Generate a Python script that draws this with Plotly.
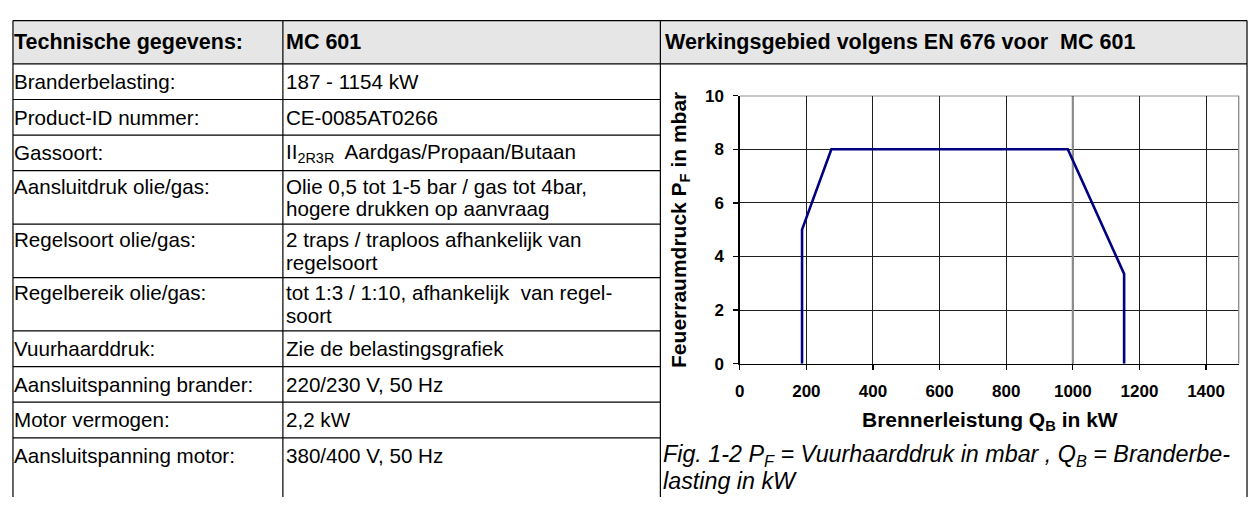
import plotly.graph_objects as go

# ---------------- data ----------------
header_left = "Technische gegevens:"
header_mid = "MC 601"
header_right = "Werkingsgebied volgens EN 676 voor  MC 601"

spec_labels = [
    "Branderbelasting:",
    "Product-ID nummer:",
    "Gassoort:",
    "Aansluitdruk olie/gas:",
    "Regelsoort olie/gas:",
    "Regelbereik olie/gas:",
    "Vuurhaarddruk:",
    "Aansluitspanning brander:",
    "Motor vermogen:",
    "Aansluitspanning motor:",
]
spec_values = [
    ["187 - 1154 kW"],
    ["CE-0085AT0266"],
    ["II<sub>2R3R</sub>  Aardgas/Propaan/Butaan"],
    ["Olie 0,5 tot 1-5 bar / gas tot 4bar,", "hogere drukken op aanvraag"],
    ["2 traps / traploos afhankelijk van", "regelsoort"],
    ["tot 1:3 / 1:10, afhankelijk  van regel-", "soort"],
    ["Zie de belastingsgrafiek"],
    ["220/230 V, 50 Hz"],
    ["2,2 kW"],
    ["380/400 V, 50 Hz"],
]

power_kw = [187, 187, 275, 985, 1154, 1154]
pressure_mbar = [0, 5, 8, 8, 3.35, 0]
x_ticks = [0, 200, 400, 600, 800, 1000, 1200, 1400]
y_ticks = [0, 2, 4, 6, 8, 10]
x_title = "Brennerleistung Q<sub>B</sub> in kW"
y_title = "Feuerraumdruck P<sub>F</sub> in mbar"
caption_lines = [
    "Fig. 1-2 P<sub>F</sub> = Vuurhaarddruk in mbar , Q<sub>B</sub> = Branderbe-",
    "lasting in kW",
]

# ---------------- layout geometry (pixels) ----------------
W, H = 1254, 507
FONT = "Liberation Sans, Arial, Helvetica, sans-serif"
BODY = 20.6
HEAD = 21.5
XL, XC1, XC2, XR = 8, 279, 658, 1247
YTOP, YHB = 12, 57
ROW1, ROW_EXTRA, LINE = 37.0, 18.5, 23.4
PLOT_L, PLOT_R, PLOT_T, PLOT_B = 737.7, 1239.3, 90, 368.5


def px(x):
    return x / W


def py(y):
    return 1 - y / H


fig = go.Figure()

fig.add_trace(go.Scatter(
    x=power_kw, y=pressure_mbar, mode="lines",
    line=dict(color="#000080", width=2.6),
    hoverinfo="skip", showlegend=False,
))

shapes = []
annotations = []

# header background
shapes.append(dict(type="rect", xref="paper", yref="paper",
                   x0=px(XL), x1=px(XR), y0=py(YHB), y1=py(YTOP),
                   fillcolor="#e6e6e6", line=dict(width=0), layer="below"))


def hline(y, x0, x1, color="black", w=1.2):
    shapes.append(dict(type="line", xref="paper", yref="paper",
                       x0=px(x0), x1=px(x1), y0=py(y), y1=py(y),
                       line=dict(color=color, width=w)))


def vline(x, y0, y1, color="black", w=1.2):
    shapes.append(dict(type="line", xref="paper", yref="paper",
                       x0=px(x), x1=px(x), y0=py(y0), y1=py(y1),
                       line=dict(color=color, width=w)))


def text(x, y, s, size=BODY, bold=False, italic=False, angle=0, xanchor="left"):
    if italic:
        s = "<i>" + s + "</i>"
    annotations.append(dict(
        xref="paper", yref="paper", x=px(x), y=py(y), text=s,
        showarrow=False, xanchor=xanchor, yanchor="middle", textangle=angle,
        font=dict(family=FONT, size=size, color="black",
                  weight="bold" if bold else "normal"),
    ))


hline(YTOP, XL, XR)
hline(YHB, XL, XR)
for x in (XL, XC1, XC2, XR):
    vline(x, YTOP, H)

TX1, TX2, TX3 = XL - 0.5, XC1 + 1.5, XC2 + 3
text(TX1, (YTOP + YHB) / 2, header_left, size=HEAD, bold=True)
text(TX2, (YTOP + YHB) / 2, header_mid, size=HEAD, bold=True)
text(TX3, (YTOP + YHB) / 2, header_right, size=HEAD, bold=True)

y = YHB
for lab, vals in zip(spec_labels, spec_values):
    n = len(vals)
    h = ROW1 + ROW_EXTRA * (n - 1)
    mid = y + h / 2
    first = mid - LINE * (n - 1) / 2
    text(TX1, first, lab)
    for i, v in enumerate(vals):
        text(TX2, first + i * LINE, v)
    y = y + h
    if y < H - 30:
        hline(y, XL, XC2)

# chart decorations drawn through axis coordinates
shapes.append(dict(type="line", xref="x", yref="y", x0=0, x1=1500, y0=10, y1=10,
                   line=dict(color="#222", width=1.3)))
shapes.append(dict(type="line", xref="x", yref="y", x0=1000, x1=1000, y0=0, y1=10,
                   line=dict(color="#8a8a8a", width=2.2), layer="between"))
shapes.append(dict(type="line", xref="x", yref="y", x0=1500, x1=1500, y0=0, y1=10,
                   line=dict(color="#8a8a8a", width=2.6)))

# axis titles and caption
text((PLOT_L + PLOT_R) / 2, 428, x_title, size=21, bold=True, xanchor="center")
text(677, (PLOT_T + PLOT_B) / 2, y_title, size=21, bold=True, angle=-90, xanchor="center")
text(XC2 + 1, 464, caption_lines[0], size=23.3, italic=True)
text(XC2 + 1, 490, caption_lines[1], size=23.3, italic=True)

axis_common = dict(
    showgrid=True, gridcolor="#1e1e1e", gridwidth=1,
    showline=True, linecolor="black", linewidth=1.5,
    ticks="outside", ticklen=5, tickcolor="black", tickwidth=1.3,
    zeroline=False, fixedrange=True,
    tickfont=dict(family=FONT, size=17, color="black", weight="bold"),
)

fig.update_layout(
    width=W, height=H,
    margin=dict(l=0, r=0, t=0, b=0),
    paper_bgcolor="white", plot_bgcolor="white",
    shapes=shapes, annotations=annotations,
    showlegend=False,
    xaxis=dict(domain=[px(PLOT_L), px(PLOT_R)], range=[0, 1500],
               tickmode="array", tickvals=x_ticks, ticklabelstandoff=6,
               **axis_common),
    yaxis=dict(domain=[py(PLOT_B), py(PLOT_T)], range=[0, 10],
               tickmode="array", tickvals=y_ticks, ticklabelstandoff=6,
               **axis_common),
)

fig.write_html(
    "out.html",
    config={"displayModeBar": False, "staticPlot": True},
    post_script="document.body.style.margin='0';document.body.style.overflow='hidden';",
)
